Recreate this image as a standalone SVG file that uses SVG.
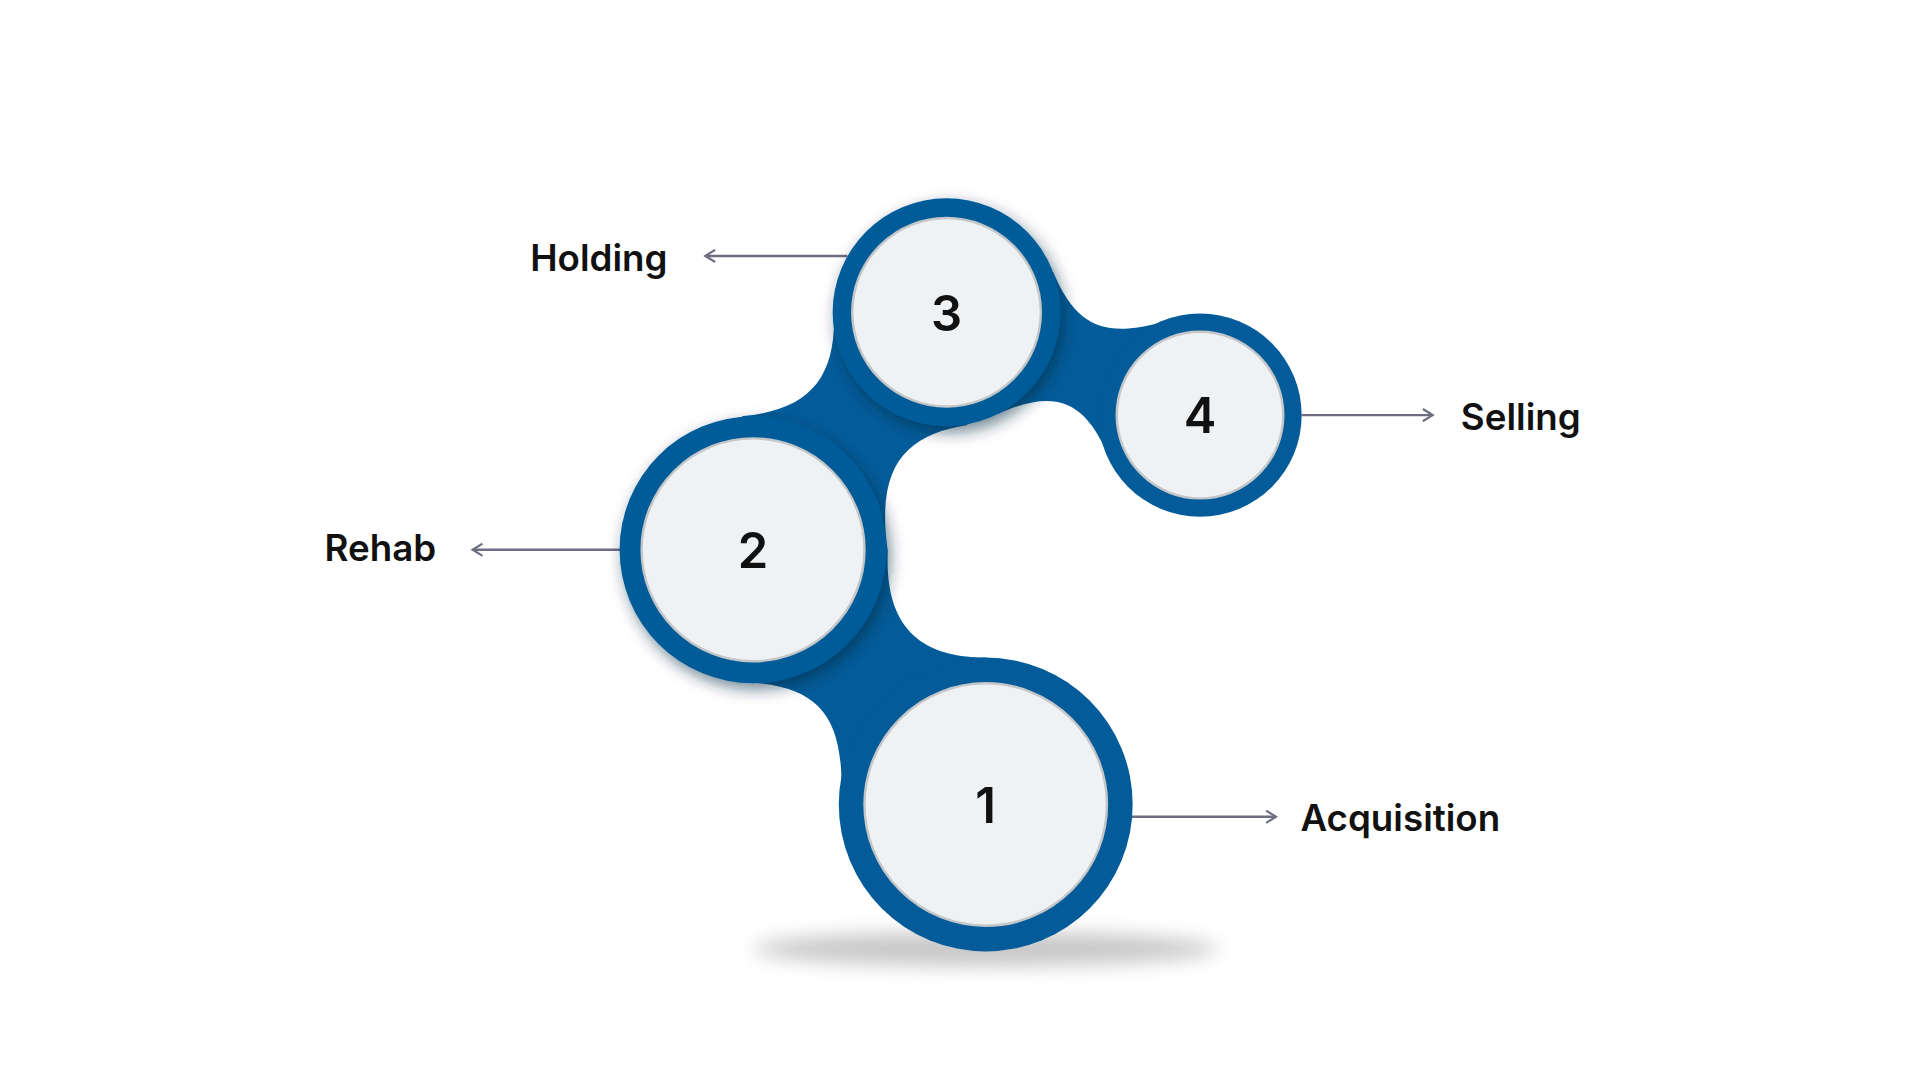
<svg xmlns="http://www.w3.org/2000/svg" width="1920" height="1080" viewBox="0 0 1920 1080">
<defs>
<style>
.blue{fill:#035C99}
.inner{fill:#EFF2F4;stroke:#C4C6C8;stroke-width:2}
.num{font-family:Inter,"Liberation Sans",sans-serif;font-weight:600;font-size:40px;fill:#111;text-anchor:middle}
.lbl{font-family:Inter,"Liberation Sans",sans-serif;font-weight:600;font-size:30px;fill:#111}
.ln{stroke:#6E6E82;stroke-width:2;fill:none}
</style>
<marker id="ah" viewBox="0 0 12 12" refX="10" refY="6" markerWidth="12" markerHeight="12" markerUnits="userSpaceOnUse" orient="auto">
<path d="M2,1 L10,6 L2,11" fill="none" stroke="#6E6E82" stroke-width="1.8"/>
</marker>
<filter id="blur" x="-50%" y="-200%" width="200%" height="500%"><feGaussianBlur stdDeviation="8"/></filter>
<filter id="sh" x="-30%" y="-30%" width="160%" height="160%"><feDropShadow dx="3" dy="5" stdDeviation="6" flood-color="#002540" flood-opacity="0.55"/></filter>
</defs>
<rect width="1920" height="1080" fill="#fff"/>
<g transform="scale(1.2245)">
<ellipse cx="805" cy="775" rx="190" ry="14" fill="#999" opacity="0.55" filter="url(#blur)"/>
<g id="connectors">
<path class="blue" d="M681,255 C683,310 660,335 606,340 L615,449 L725,450 C715,380 740,355 790,347 L773,255 Z"/>
<path class="blue" d="M860,222 C880,270 905,275 950,263 L980,339 L905,372 C885,325 860,318 815,338 L773,300 Z"/>
<path class="blue" d="M608,557 C670,560 690,585 687,655 L805,657 L805,537 C760,537 722,520 725,450 L615,449 Z"/>
<line class="ln" x1="692" y1="209" x2="576" y2="209" marker-end="url(#ah)"/>
<line class="ln" x1="507" y1="449" x2="386" y2="449" marker-end="url(#ah)"/>
<line class="ln" x1="1063" y1="339" x2="1170" y2="339" marker-end="url(#ah)"/>
<line class="ln" x1="924" y1="667" x2="1042" y2="667" marker-end="url(#ah)"/>
</g>
<g id="n3"><circle class="blue" cx="773" cy="255" r="93" filter="url(#sh)"/><circle class="inner" cx="773" cy="255" r="77"/><text class="num" x="773" y="270">3</text></g>
<g id="n4"><circle class="blue" cx="980" cy="339" r="83"/><circle class="inner" cx="980" cy="339" r="68"/><text class="num" x="980" y="354">4</text></g>
<g id="n2"><circle class="blue" cx="615" cy="449" r="109" filter="url(#sh)"/><circle class="inner" cx="615" cy="449" r="91"/><text class="num" x="615" y="464">2</text></g>
<g id="n1"><circle class="blue" cx="805" cy="657" r="120"/><circle class="inner" cx="805" cy="657" r="99"/><text class="num" x="805" y="672">1</text></g>
<g id="labels">
<text class="lbl" x="433" y="221">Holding</text>
<text class="lbl" x="265" y="458">Rehab</text>
<text class="lbl" x="1193" y="351">Selling</text>
<text class="lbl" x="1062" y="679">Acquisition</text>
</g>
</g>
</svg>
